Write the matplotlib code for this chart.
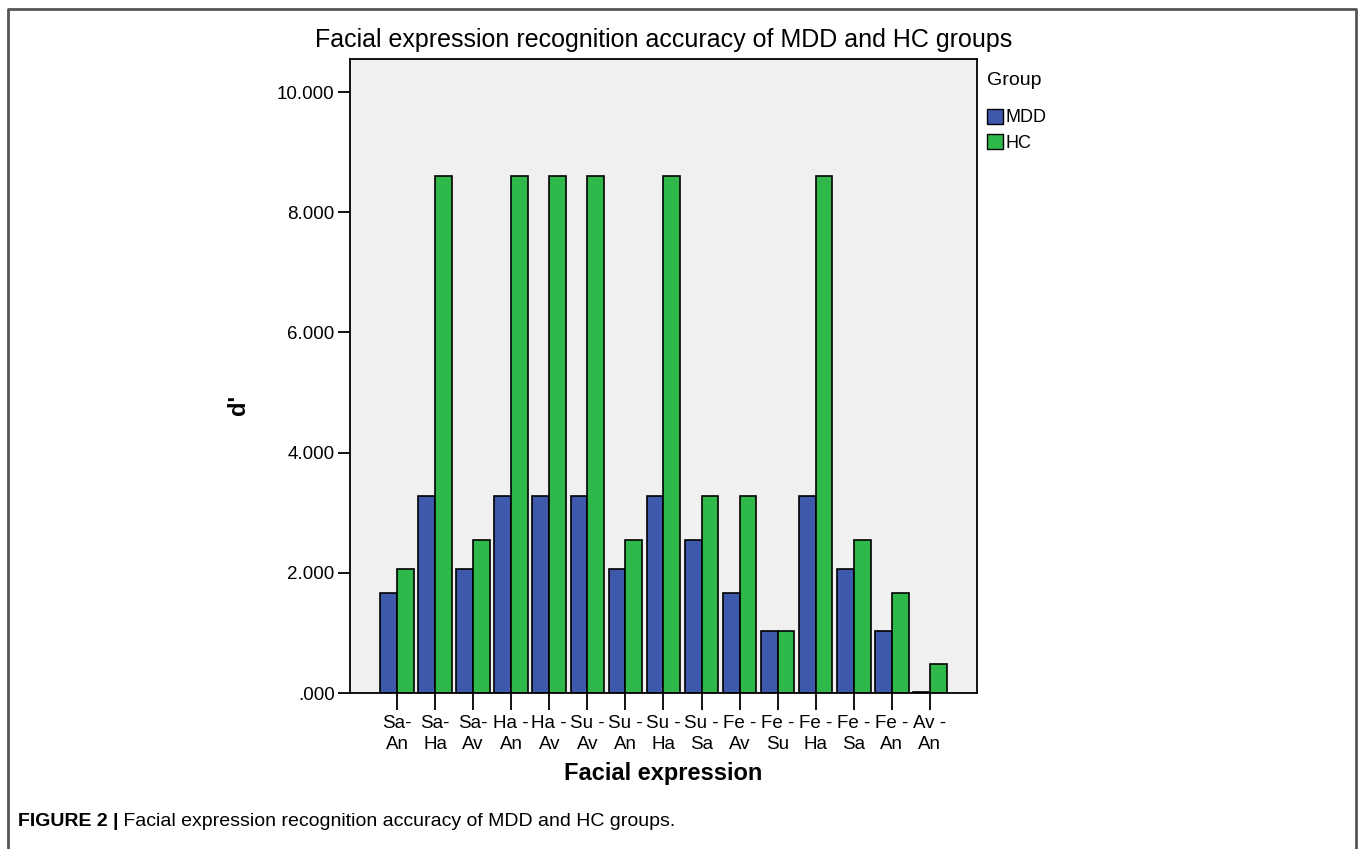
import numpy as np
import matplotlib.pyplot as plt
from matplotlib.lines import Line2D
from matplotlib.patches import Patch

plt.rcParams['font.family'] = ['Liberation Sans', 'DejaVu Sans']

#   data
pairs = ['Sa-\nAn', 'Sa-\nHa', 'Sa-\nAv', 'Ha -\nAn', 'Ha -\nAv', 'Su -\nAv', 'Su -\nAn', 'Su -\nHa',
         'Su -\nSa', 'Fe -\nAv', 'Fe -\nSu', 'Fe -\nHa', 'Fe -\nSa', 'Fe -\nAn', 'Av -\nAn']
mdd = [1.67, 3.28, 2.06, 3.28, 3.28, 3.28, 2.06, 3.28, 2.55, 1.67, 1.04, 3.28, 2.06, 1.04, 0.02]
hc = [2.06, 8.60, 2.55, 8.60, 8.60, 8.60, 2.55, 8.60, 3.28, 3.28, 1.04, 8.60, 2.55, 1.67, 0.48]
yticks = [0, 2, 4, 6, 8, 10]
ylabels = ['.000', '2.000', '4.000', '6.000', '8.000', '10.000']

blue = '#3E58AC'
green = '#2EB84A'

fig = plt.figure(figsize=(13.58, 8.49), dpi=100)
ax = fig.add_axes([0.2577, 0.1837, 0.7194 - 0.2577, 0.9305 - 0.1837])
ax.set_facecolor('#F0F0F0')

x = np.arange(len(pairs))
w = 0.44
ax.bar(x - w / 2, mdd, w, color=blue, edgecolor='black', linewidth=1.2)
ax.bar(x + w / 2, hc, w, color=green, edgecolor='black', linewidth=1.2)

ax.set_xlim(-1.235, len(pairs) - 1 + 1.235)
ax.set_ylim(0, 10.55)
ax.set_xticks(x)
ax.set_xticklabels(pairs, fontsize=13.5, linespacing=1.25)
ax.set_yticks(yticks)
ax.set_yticklabels(ylabels, fontsize=13.5)
ax.tick_params(axis='x', length=12, width=1.3, pad=4)
ax.tick_params(axis='y', length=9, width=1.3, pad=2)
for s in ax.spines.values():
    s.set_linewidth(1.3)

ax.set_xlabel('Facial expression', fontsize=17, fontweight='bold', labelpad=7)
ax.set_ylabel("d'", fontsize=17, fontweight='bold')
ax.yaxis.set_label_coords(-0.16, 0.454)
ax.set_title('Facial expression recognition accuracy of MDD and HC groups', fontsize=18, pad=9)

#   legend outside on the right
handles = [Patch(facecolor=blue, edgecolor='black', label='MDD'),
           Patch(facecolor=green, edgecolor='black', label='HC')]
leg = fig.legend(handles=handles, title='Group', loc='upper left', bbox_to_anchor=(0.7265, 0.915),
                 frameon=False, fontsize=13, title_fontsize=14, handlelength=0.9, handleheight=0.9,
                 handletextpad=0.15, labelspacing=0.45, borderaxespad=0, borderpad=0)
leg._legend_box.align = 'left'
leg._legend_box.sep = 14

#   figure frame and caption
fx0, fx1, fy1 = 8 / 1358, 1356 / 1358, 1 - 9 / 849
fig.add_artist(Line2D([fx0, fx0, fx1, fx1], [0, fy1, fy1, 0], color='#555555', linewidth=2,
                      transform=fig.transFigure))
cap = fig.text(18 / 1358, 1 - 822 / 849, 'FIGURE 2 |', fontsize=14, fontweight='bold', va='center')
plt.annotate(' Facial expression recognition accuracy of MDD and HC groups.', xy=(1, 0.5),
             xycoords=cap, fontsize=14, va='center', ha='left', annotation_clip=False)

fig.savefig('out.png', dpi=100)
